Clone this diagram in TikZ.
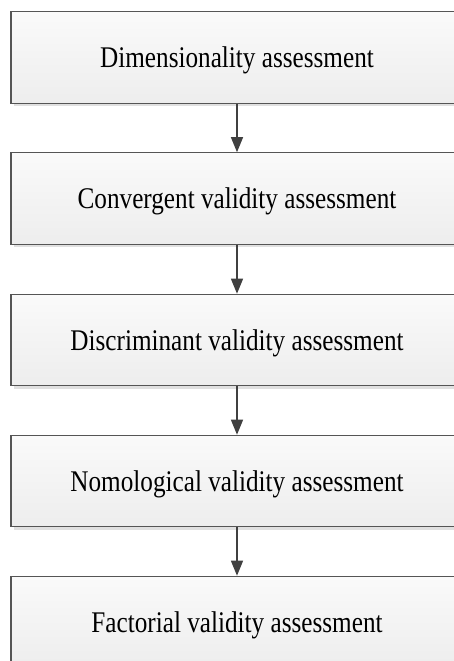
\documentclass[tikz,border=0pt]{standalone}
\usepackage{fontspec}
\setmainfont{Liberation Serif}[FakeStretch=0.84]
\usetikzlibrary{arrows.meta,shadows}
\definecolor{edge}{HTML}{555555}
\definecolor{arrowc}{HTML}{404040}
\tikzset{
  stagebox/.style={draw=edge, line width=1.1pt, rectangle,
    top color=white!98!black, bottom color=black!7,
    minimum width=452pt, minimum height=91.5pt, inner sep=0pt,
    text height=20pt, text depth=0pt,
    font=\fontsize{30}{36}\selectfont,
    general shadow={fill=black!12, shadow xshift=3pt, shadow yshift=-3pt}},
  flowarrow/.style={draw=arrowc, line width=1.3pt,
    -{Triangle[length=15pt,width=12pt]}}
}
\begin{document}
\begin{tikzpicture}[x=1pt,y=-1pt]
\useasboundingbox (0,0) rectangle (454,661);
\clip (0,0) rectangle (454,661);
\fill[white] (0,0) rectangle (454,661);
\node[stagebox] (b1) at (237,57.5)  {Dimensionality assessment};
\node[stagebox] (b2) at (237,198.5) {Convergent validity assessment};
\node[stagebox] (b3) at (237,340)   {Discriminant validity assessment};
\node[stagebox] (b4) at (237,481)   {Nomological validity assessment};
\node[stagebox] (b5) at (237,622)   {Factorial validity assessment};
\draw[flowarrow] (b1) -- (b2);
\draw[flowarrow] (b2) -- (b3);
\draw[flowarrow] (b3) -- (b4);
\draw[flowarrow] (b4) -- (b5);
\end{tikzpicture}
\end{document}
